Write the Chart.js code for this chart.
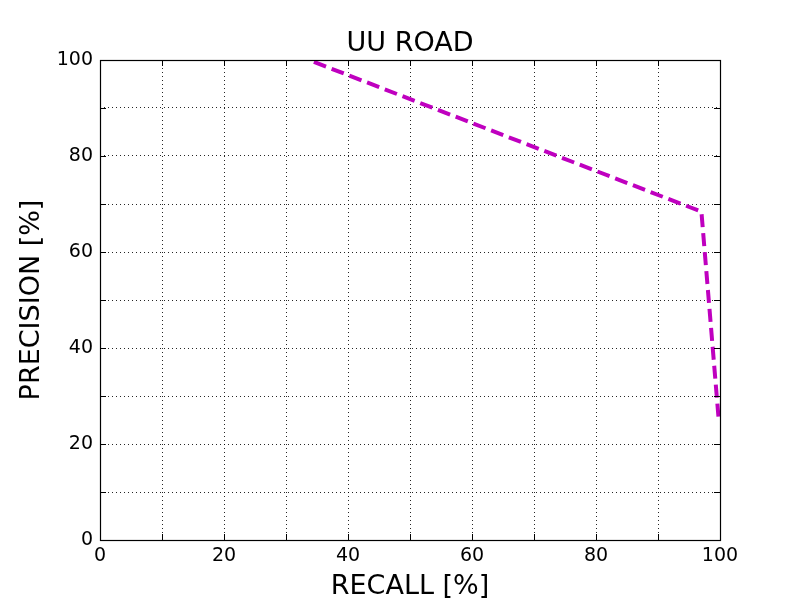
<!DOCTYPE html>
<html lang="en">
<head>
  <meta charset="UTF-8" />
  <title>UU ROAD</title>
  <script src="https://cdn.jsdelivr.net/npm/chart.js"></script>
  <style>
    html, body { margin: 0; padding: 0; background: #fff; }
    #wrap { width: 800px; height: 600px; }
  </style>
</head>
<body>
  <div id="wrap"><canvas id="prChart" width="800" height="600"></canvas></div>

  <script>
    // precision/recall curve
    const recall = [34.5, 97.0, 99.8];
    const precision = [99.6, 68.4, 24.9];
    const axisTicks = [0, 10, 20, 30, 40, 50, 60, 70, 80, 90, 100];

    const FONT = "'DejaVu Sans', sans-serif";

    // matplotlib-classic look: full box plus inward ticks on all four sides
    const boxTicks = {
      id: 'boxTicks',
      afterDraw(chart) {
        const { ctx, chartArea: a, scales } = chart;
        ctx.save();
        ctx.strokeStyle = '#000';
        ctx.lineWidth = 1;
        ctx.beginPath();
        axisTicks.forEach(v => {
          const x = Math.round(scales.x.getPixelForValue(v)) + 0.5;
          const y = Math.round(scales.y.getPixelForValue(v)) + 0.5;
          ctx.moveTo(x, a.bottom); ctx.lineTo(x, a.bottom - 6);
          ctx.moveTo(x, a.top); ctx.lineTo(x, a.top + 6);
          ctx.moveTo(a.left, y); ctx.lineTo(a.left + 6, y);
          ctx.moveTo(a.right, y); ctx.lineTo(a.right - 6, y);
        });
        ctx.stroke();
        ctx.lineWidth = 1.2;
        ctx.strokeRect(a.left + 0.5, a.top + 0.5, a.right - a.left, a.bottom - a.top);
        ctx.restore();
      }
    };

    new Chart(document.getElementById('prChart'), {
      type: 'line',
      data: {
        datasets: [{
          data: recall.map((r, i) => ({ x: r, y: precision[i] })),
          borderColor: '#bf00bf',
          borderWidth: 4,
          borderDash: [13, 6],
          pointRadius: 0,
          tension: 0,
          fill: false
        }]
      },
      options: {
        responsive: false,
        animation: false,
        layout: { padding: { left: 0, right: 80, top: 0, bottom: 0 } },
        plugins: {
          legend: { display: false },
          tooltip: { enabled: false },
          title: {
            display: true,
            fullSize: false,
            text: 'UU ROAD',
            color: '#000',
            font: { family: FONT, size: 27, weight: 'normal', lineHeight: 1.1 },
            padding: { top: 29.2, bottom: 1.1 }
          }
        },
        scales: {
          x: {
            type: 'linear',
            min: 0, max: 100,
            afterFit(s) { s.height = 60; },
            afterBuildTicks(s) { s.ticks = axisTicks.map(v => ({ value: v })); },
            ticks: {
              color: '#000',
              padding: 5,
              maxRotation: 0,
              font: { family: FONT, size: 19 },
              callback: v => (v % 20 === 0 ? v : '')
            },
            grid: { color: 'rgba(0,0,0,0.85)', lineWidth: 1, drawTicks: false },
            border: { display: false, dash: [1, 3] },
            title: {
              display: true,
              text: 'RECALL [%]',
              color: '#000',
              font: { family: FONT, size: 27, lineHeight: 1 },
              padding: { top: 0, bottom: 0 }
            }
          },
          y: {
            min: 0, max: 100,
            afterFit(s) { s.width = 100; },
            afterBuildTicks(s) { s.ticks = axisTicks.map(v => ({ value: v })); },
            ticks: {
              color: '#000',
              padding: 7,
              font: { family: FONT, size: 19 },
              callback: v => (v % 20 === 0 ? v : '')
            },
            grid: { color: 'rgba(0,0,0,0.85)', lineWidth: 1, drawTicks: false },
            border: { display: false, dash: [1, 3] },
            title: {
              display: true,
              text: 'PRECISION [%]',
              color: '#000',
              font: { family: FONT, size: 27, lineHeight: 1.2 },
              padding: { top: 16, bottom: 0 }
            }
          }
        }
      },
      plugins: [boxTicks]
    });
  </script>
</body>
</html>
